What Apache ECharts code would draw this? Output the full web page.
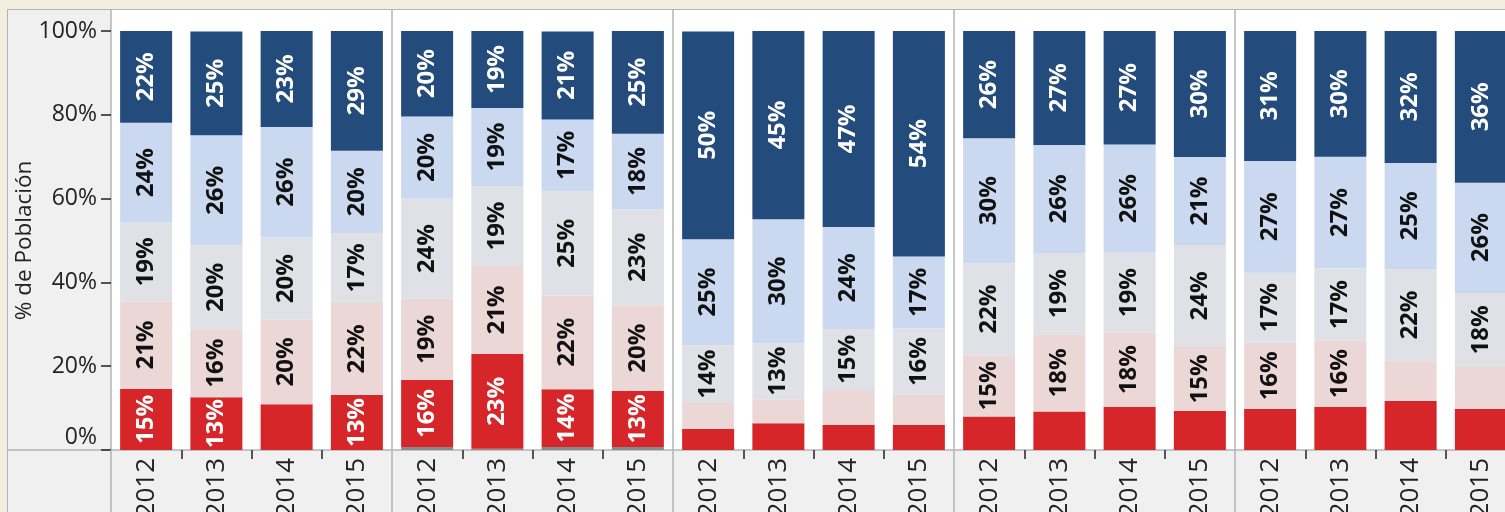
<!DOCTYPE html>
<html>
<head>
<meta charset="utf-8">
<script src="https://cdn.jsdelivr.net/npm/echarts@6/dist/echarts.min.js"></script>
<style>
  html, body { margin: 0; padding: 0; background: #f4eee0; }
  #wrap {
    position: absolute; left: 7px; top: 9px;
    width: 1498px; height: 503px;
    background: #f0f0f0;
    border-left: 1px solid #b4b4b4;
    border-top: 1px solid #b4b4b4;
    overflow: hidden;
  }
  #chart { width: 1497px; height: 502px; }
</style>
</head>
<body>
<div id="wrap"><div id="chart"></div></div>
<script>
// años de cada panel, 5 paneles
const years = ['2012', '2013', '2014', '2015'];
const panelCount = 5;

// % de población por segmento, panel por panel (4 años cada uno)
const otros     = [0, 0, 0, 0,  0.7, 0.3, 0.7, 0.7,  0, 0, 0, 0,  0, 0, 0, 0,  0, 0, 0, 0];
const rojo      = [14.6, 12.6, 10.9, 13.1,  16.0, 22.6, 13.8, 13.4,  5.0, 6.4, 6.0, 6.0,  8.0, 9.2, 10.3, 9.3,  9.8, 10.3, 11.7, 9.8];
const rosa      = [20.9, 16.2, 20.2, 22.0,  19.4, 21.0, 22.4, 20.4,  6.2, 5.7, 8.3, 7.2,  14.6, 18.4, 17.7, 15.3,  15.8, 15.8, 9.5, 10.0];
const gris      = [18.8, 20.0, 19.6, 16.7,  23.9, 19.1, 24.8, 22.9,  13.8, 13.4, 14.6, 15.8,  22.0, 19.4, 19.1, 24.3,  16.7, 17.2, 22.0, 17.7];
const azulClaro = [23.8, 26.3, 26.4, 19.6,  19.6, 18.6, 17.2, 18.1,  25.3, 29.6, 24.3, 17.2,  29.8, 25.8, 25.8, 21.0,  26.7, 26.7, 25.3, 26.3];
const azul      = [22.0, 24.8, 22.9, 28.6,  20.4, 18.6, 21.0, 24.6,  49.6, 44.9, 46.8, 53.9,  25.6, 27.2, 27.2, 30.1,  31.0, 30.1, 31.6, 36.3];

const yTicks = [0, 20, 40, 60, 80, 100];

const categories = [];
for (let p = 0; p < panelCount; p++) {
  years.forEach(y => categories.push(y));
}

const chart = echarts.init(document.getElementById('chart'));

const font = 'Open Sans';
const lineGray = '#b4b4b4';
const plotWidth = 1405; // el ultimo panel queda cortado a la derecha

// etiqueta dentro de la barra, solo si cabe
function segLabel(color) {
  return {
    show: true,
    position: 'inside',
    rotate: 90,
    color: color,
    fontFamily: font,
    fontWeight: 'bold',
    fontSize: 24,
    formatter: p => (p.value >= 12 ? Math.round(p.value) + '%' : '')
  };
}

function seg(name, data, color, labelColor) {
  return {
    name: name,
    type: 'bar',
    stack: 'total',
    xAxisIndex: 1,
    yAxisIndex: 1,
    data: data,
    barWidth: 52,
    itemStyle: { color: color },
    label: labelColor ? segLabel(labelColor) : { show: false },
    emphasis: { disabled: true }
  };
}

chart.setOption({
  animation: false,
  grid: [
    // fondo blanco + separadores de panel
    { left: 103, width: plotWidth, top: 0, bottom: 62, show: true, backgroundColor: '#fff', borderWidth: 0, outerBoundsMode: 'none' },
    // barras
    { left: 103, width: plotWidth, top: 21, bottom: 62, outerBoundsMode: 'none' },
    // linea base que cruza todo el ancho
    { left: 0, right: 0, top: 0, bottom: 62, outerBoundsMode: 'none' }
  ],
  xAxis: [
    {
      gridIndex: 0,
      type: 'category',
      data: categories,
      axisLine: { show: false },
      axisLabel: { show: false },
      axisTick: {
        show: true,
        interval: i => i % 4 === 0,
        length: 62,
        lineStyle: { color: lineGray, width: 1.5 }
      },
      splitLine: {
        show: true,
        interval: i => i % 4 === 0,
        lineStyle: { color: lineGray, width: 1.5 }
      }
    },
    {
      gridIndex: 1,
      type: 'category',
      data: categories,
      axisLine: { show: false },
      axisTick: {
        show: true,
        interval: i => i % 4 !== 0,
        length: 9,
        lineStyle: { color: '#222', width: 1.5 }
      },
      axisLabel: {
        interval: 0,
        rotate: 90,
        margin: 8,
        fontFamily: font,
        fontSize: 26,
        color: '#222'
      }
    },
    {
      gridIndex: 2,
      type: 'value',
      axisLine: { show: true, lineStyle: { color: lineGray, width: 1.5 } },
      axisTick: { show: false },
      axisLabel: { show: false },
      splitLine: { show: false }
    }
  ],
  yAxis: [
    { gridIndex: 0, type: 'value', show: false },
    {
      gridIndex: 1,
      type: 'value',
      min: yTicks[0],
      max: yTicks[yTicks.length - 1],
      interval: 20,
      axisLine: { show: false },
      splitLine: { show: false },
      axisTick: { show: true, length: 10, lineStyle: { color: '#222', width: 1.5 } },
      axisLabel: {
        margin: 14,
        fontFamily: font,
        fontSize: 23,
        color: '#222',
        formatter: v => (v === 0 ? '{z|0%}' : v + '%'),
        rich: { z: { fontFamily: font, fontSize: 23, color: '#222', padding: [0, 0, 26, 0] } }
      },
      name: '% de Población',
      nameLocation: 'middle',
      nameRotate: 90,
      nameGap: 75,
      nameMoveOverlap: false,
      nameTextStyle: { fontFamily: font, fontSize: 22.5, color: '#222' }
    },
    { gridIndex: 2, type: 'value', show: false }
  ],
  series: [
    seg('Otros', otros, '#8a8a8a', null),
    seg('Rojo', rojo, '#d72629', '#fff'),
    seg('Rosa', rosa, '#ebd7d6', '#111'),
    seg('Gris', gris, '#dfe1e6', '#111'),
    seg('Azul claro', azulClaro, '#cad9f0', '#111'),
    seg('Azul', azul, '#234b7c', '#fff')
  ]
});
</script>
</body>
</html>
